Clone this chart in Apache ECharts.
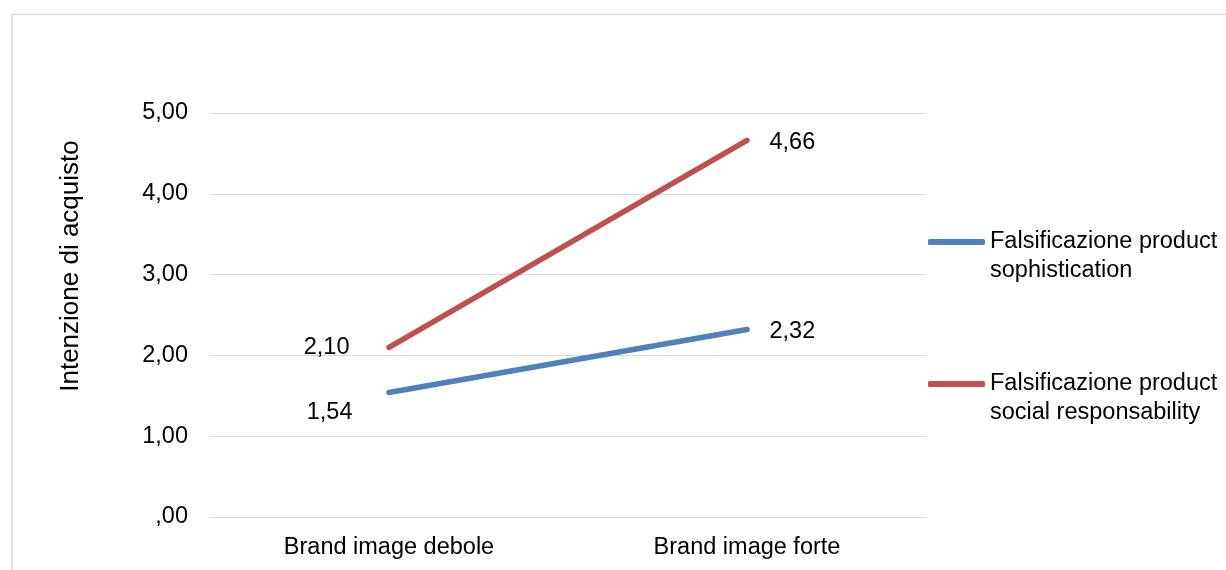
<!DOCTYPE html>
<html>
<head>
<meta charset="utf-8">
<script src="https://cdn.jsdelivr.net/npm/echarts@6/dist/echarts.min.js"></script>
<style>
html,body{margin:0;padding:0;background:#fff;}
#chart{width:1226px;height:570px;}
</style>
</head>
<body>
<div id="chart"></div>
<script>
const categories = ['Brand image debole', 'Brand image forte'];
const seriesNames = ['Falsificazione product sophistication', 'Falsificazione product social responsability'];
const legendLabels = ['Falsificazione product\nsophistication', 'Falsificazione product\nsocial responsability'];
const sophistication = [1.54, 2.32];
const socialResp = [2.10, 4.66];
const yTickLabels = [',00', '1,00', '2,00', '3,00', '4,00', '5,00'];
const yAxisTitle = 'Intenzione di acquisto';

const FONT = "'Liberation Sans', Arial, sans-serif";
const fmt = v => v.toFixed(2).replace('.', ',').replace(/^0,/, ',');
const LH = 29;

function mkData(vals, labelCfgs) {
  return vals.map((v, i) => ({ value: v, label: labelCfgs[i] }));
}

const chart = echarts.init(document.getElementById('chart'), null, { renderer: 'canvas' });
chart.setOption({
  backgroundColor: '#fff',
  animation: false,
  textStyle: { fontFamily: FONT },
  graphic: [{
    type: 'rect',
    shape: { x: 12, y: 14.5, width: 1400, height: 800 },
    style: { fill: 'none', stroke: '#d9d9d9', lineWidth: 1.5 },
    silent: true
  }],
  grid: { left: 210, right: 300, top: 113, bottom: 53 },
  legend: {
    orient: 'vertical',
    left: 928,
    top: 242 - 1.5 * LH,
    padding: 0,
    itemGap: 55,
    itemWidth: 57,
    itemHeight: 6,
    icon: 'roundRect',
    data: seriesNames,
    formatter: name => '\n' + legendLabels[seriesNames.indexOf(name)],
    textStyle: { fontFamily: FONT, fontSize: 23.5, color: '#000', lineHeight: LH }
  },
  xAxis: {
    type: 'category',
    data: categories,
    boundaryGap: true,
    axisLine: { show: true, lineStyle: { color: '#d9d9d9', width: 1 } },
    axisTick: { show: false },
    axisLabel: { fontFamily: FONT, fontSize: 23.5, color: '#000', margin: 19 }
  },
  yAxis: {
    type: 'value',
    min: 0, max: 5, interval: 1,
    name: yAxisTitle,
    nameLocation: 'middle',
    nameGap: 126,
    nameRotate: 90,
    nameTextStyle: { fontFamily: FONT, fontSize: 26, color: '#000', padding: [0, 0, 0, 98] },
    axisLine: { show: false },
    axisTick: { show: false },
    splitLine: { lineStyle: { color: '#d9d9d9', width: 1 } },
    axisLabel: {
      fontFamily: FONT, fontSize: 23.5, color: '#000', margin: 22, padding: [6, 0, 0, 0],
      formatter: v => yTickLabels[Math.round(v)]
    }
  },
  series: [
    {
      name: seriesNames[0],
      type: 'line',
      data: mkData(sophistication, [
        { show: true, position: 'left', distance: 36, offset: [0, 20] },
        { show: true, position: 'right', distance: 22, offset: [0, 2] }
      ]),
      symbol: 'circle', symbolSize: 1,
      itemStyle: { color: '#4F81BD' },
      lineStyle: { color: '#4F81BD', width: 5.5, cap: 'round' },
      label: { formatter: p => fmt(p.value), fontFamily: FONT, fontSize: 23.5, color: '#000' },
      z: 3
    },
    {
      name: seriesNames[1],
      type: 'line',
      data: mkData(socialResp, [
        { show: true, position: 'left', distance: 39, offset: [0, 0] },
        { show: true, position: 'right', distance: 22, offset: [0, 2] }
      ]),
      symbol: 'circle', symbolSize: 1,
      itemStyle: { color: '#C0504D' },
      lineStyle: { color: '#C0504D', width: 5.5, cap: 'round' },
      label: { formatter: p => fmt(p.value), fontFamily: FONT, fontSize: 23.5, color: '#000' },
      z: 3
    }
  ]
});
</script>
</body>
</html>
